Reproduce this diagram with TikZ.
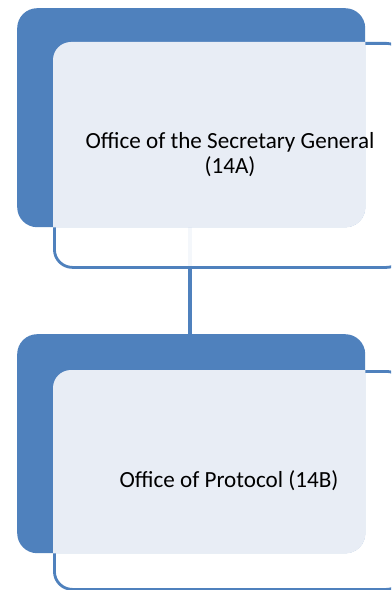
\documentclass[tikz,border=0pt]{standalone}
\usepackage{fontspec}
\setmainfont{Carlito}
\definecolor{accent}{HTML}{4F81BD}
\definecolor{panel}{HTML}{E8EDF5}
\tikzset{
  backcard/.style={fill=accent, rounded corners=20bp, inner sep=0pt, anchor=north west},
  frontcard/.style={draw=accent, line width=2.8bp, fill=white, fill opacity=0.94, draw opacity=1,
                    rounded corners=18bp, inner sep=0pt, anchor=north west},
  label/.style={font=\fontsize{23.2}{25}\selectfont, align=center, text=black},
  link/.style={draw=accent, line width=3.5bp}
}
\begin{document}
\begin{tikzpicture}[x=1bp,y=-1bp]
  \useasboundingbox (0,0) rectangle (391,590);
  \clip (0,0) rectangle (391,590);
  \fill[white] (0,0) rectangle (391,590);

  % link between the two levels (partly hidden behind the upper card)
  \coordinate (top) at (190,227);
  \coordinate (bot) at (190,334);
  \draw[link] (top) -- (bot);

  % upper level
  \node[frontcard, minimum width=350bp, minimum height=224bp] (f1) at (53,42) {};
  \node[backcard, minimum width=348bp, minimum height=219bp] (b1) at (17,8) {};
  \begin{scope}
    \clip[rounded corners=20bp] (b1.north west) rectangle (b1.south east);
    \fill[panel, rounded corners=18bp] (f1.north west) rectangle (f1.south east);
  \end{scope}
  \node[label] (t1) at (230,155) {Office of the Secretary General\\(14A)};

  % lower level
  \node[frontcard, minimum width=350bp, minimum height=218bp] (f2) at (53,370) {};
  \node[backcard, minimum width=348bp, minimum height=219bp] (b2) at (17,334) {};
  \begin{scope}
    \clip[rounded corners=20bp] (b2.north west) rectangle (b2.south east);
    \fill[panel, rounded corners=18bp] (f2.north west) rectangle (f2.south east);
  \end{scope}
  \node[label] (t2) at (229,481) {Office of Protocol (14B)};
\end{tikzpicture}
\end{document}
